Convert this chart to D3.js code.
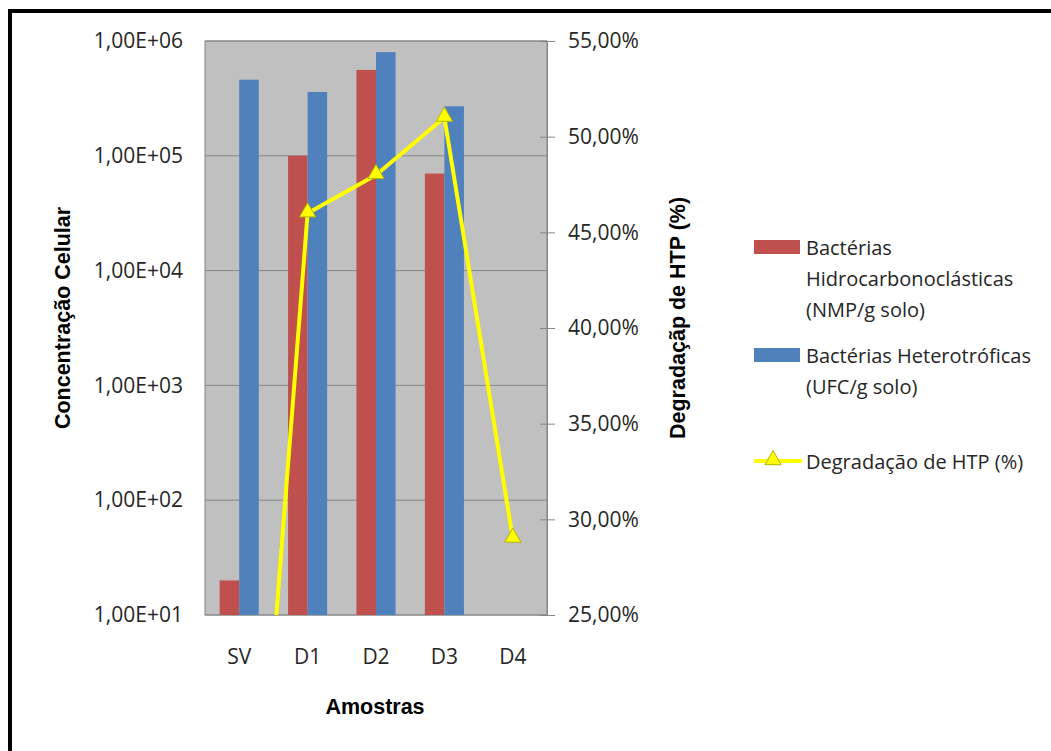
<!DOCTYPE html>
<html>
<head>
<meta charset="utf-8">
<script src="https://cdn.jsdelivr.net/npm/d3@7"></script>
<style>
  body { margin: 0; background: #fff; }
  text { font-family: "Open Sans", "Liberation Sans", sans-serif; fill: #262626; }
  .bold { font-family: "Liberation Sans", Arial, sans-serif; font-weight: bold; fill: #000; }
</style>
</head>
<body>
<div id="chart"></div>
<script>
// dados
const categories = ["SV", "D1", "D2", "D3", "D4"];
const hidrocarbono = [20, 1e5, 5.6e5, 7e4, null];      // NMP/g solo
const heterotroficas = [4.6e5, 3.6e5, 8e5, 2.7e5, null]; // UFC/g solo
const degradacao = [0, 0.46, 0.48, 0.51, 0.29];          // HTP
const leftTicks = [1e1, 1e2, 1e3, 1e4, 1e5, 1e6];
const rightTicks = [0.25, 0.30, 0.35, 0.40, 0.45, 0.50, 0.55];
const legendLabels = [
    ["Bactérias", "Hidrocarbonoclásticas", "(NMP/g solo)"],
    ["Bactérias Heterotróficas", "(UFC/g solo)"],
    ["Degradação de HTP (%)"]
];

const W = 1051, H = 751;
const plot = { left: 205, right: 547, top: 41, bottom: 615 };
const colors = { red: "#C0504D", blue: "#4F81BD", line: "#FFFF00" };

const svg = d3.select("#chart").append("svg")
    .attr("width", W).attr("height", H);

// moldura
svg.append("rect")
    .attr("x", 10).attr("y", 11)
    .attr("width", W + 20).attr("height", H + 20)
    .attr("fill", "none").attr("stroke", "#000").attr("stroke-width", 4);

// escalas
const x = d3.scaleBand().domain(categories).range([plot.left, plot.right]);
const barW = x.bandwidth() / 3.5;
const yLeft = d3.scaleLog().domain([1e1, 1e6]).range([plot.bottom, plot.top]);
const yRight = d3.scaleLinear().domain([0.25, 0.55]).range([plot.bottom, plot.top]);

// área do gráfico
svg.append("rect")
    .attr("x", plot.left).attr("y", plot.top)
    .attr("width", plot.right - plot.left).attr("height", plot.bottom - plot.top)
    .attr("fill", "#C0C0C0").attr("stroke", "#868686").attr("stroke-width", 1);

// linhas de grade
svg.append("g").selectAll("line").data(leftTicks).enter().append("line")
    .attr("x1", plot.left).attr("x2", plot.right)
    .attr("y1", d => yLeft(d)).attr("y2", d => yLeft(d))
    .attr("stroke", "#868686").attr("stroke-width", 1);

// barras
[[hidrocarbono, colors.red, 0], [heterotroficas, colors.blue, 1]].forEach(([vals, col, i]) => {
    svg.append("g").selectAll("rect")
        .data(categories.map((c, k) => ({ c, v: vals[k] })).filter(d => d.v != null))
        .enter().append("rect")
        .attr("x", d => x(d.c) + barW * 0.75 + i * barW)
        .attr("y", d => yLeft(d.v))
        .attr("width", barW)
        .attr("height", d => plot.bottom - yLeft(d.v))
        .attr("fill", col);
});

const tickFont = sel => sel.style("font-size", "21px").attr("fill", "#262626")
    .style("font-family", '"Open Sans", sans-serif');

// eixo esquerdo
const axL = svg.append("g")
    .attr("transform", `translate(${plot.left},0)`)
    .call(d3.axisLeft(yLeft).tickValues(leftTicks).tickSize(0).tickPadding(22)
        .tickFormat(d => "1,00E+" + String(Math.round(Math.log10(d))).padStart(2, "0")));
axL.select(".domain").remove();
axL.selectAll("text").call(tickFont);

// eixo direito
const axR = svg.append("g")
    .attr("transform", `translate(${plot.right},0)`)
    .call(d3.axisRight(yRight).tickValues(rightTicks).tickSizeInner(8).tickSizeOuter(0).tickPadding(13)
        .tickFormat(d => d3.format(".2f")(d * 100).replace(".", ",") + "%"));
axR.select(".domain").attr("stroke", "#868686");
axR.selectAll(".tick line").attr("stroke", "#868686").attr("x1", -7);
axR.selectAll("text").call(tickFont);

// eixo x
const axB = svg.append("g")
    .attr("transform", `translate(0,${plot.bottom})`)
    .call(d3.axisBottom(x).tickSize(0).tickPadding(34));
axB.select(".domain").remove();
axB.selectAll("text").call(tickFont);

// linha de degradação (recortada na área)
svg.append("clipPath").attr("id", "clip").append("rect")
    .attr("x", plot.left).attr("y", plot.top - 10)
    .attr("width", plot.right - plot.left).attr("height", plot.bottom - plot.top + 10);

const pts = categories.map((c, k) => ({ c, v: degradacao[k] }));
const lineG = svg.append("g").attr("clip-path", "url(#clip)");
lineG.append("path")
    .datum(pts)
    .attr("d", d3.line().x(d => x(d.c) + x.bandwidth() / 2).y(d => yRight(d.v)))
    .attr("fill", "none").attr("stroke", colors.line).attr("stroke-width", 4)
    .attr("stroke-linejoin", "round");

const tri = d3.symbol().type(d3.symbolTriangle).size(115);
lineG.selectAll("path.marker").data(pts).enter().append("path")
    .attr("class", "marker")
    .attr("d", tri)
    .attr("transform", d => `translate(${x(d.c) + x.bandwidth() / 2},${yRight(d.v) - 1})`)
    .attr("fill", colors.line).attr("stroke", "#B4B400").attr("stroke-width", 1);

// títulos dos eixos
svg.append("text").attr("class", "bold")
    .attr("transform", "translate(63,318) rotate(-90)")
    .attr("text-anchor", "middle").attr("dominant-baseline", "central")
    .style("font-size", "21.5px")
    .text("Concentração Celular");

svg.append("text").attr("class", "bold")
    .attr("transform", "translate(678,318) rotate(-90)")
    .attr("text-anchor", "middle").attr("dominant-baseline", "central")
    .style("font-size", "21.5px")
    .text("Degradaçãp de HTP (%)");

svg.append("text").attr("class", "bold")
    .attr("x", 375).attr("y", 707)
    .attr("text-anchor", "middle").attr("dominant-baseline", "central")
    .style("font-size", "21.5px")
    .text("Amostras");

// legenda
const legend = svg.append("g").attr("transform", "translate(754,0)");
const legendY = [247, 355, 461];
[colors.red, colors.blue].forEach((col, i) => {
    legend.append("rect")
        .attr("x", 0).attr("y", legendY[i] - 7)
        .attr("width", 46).attr("height", 14)
        .attr("fill", col);
});
legend.append("line")
    .attr("x1", 0).attr("x2", 48).attr("y1", legendY[2]).attr("y2", legendY[2])
    .attr("stroke", colors.line).attr("stroke-width", 4);
legend.append("path")
    .attr("d", tri)
    .attr("transform", `translate(19,${legendY[2] - 1})`)
    .attr("fill", colors.line).attr("stroke", "#B4B400").attr("stroke-width", 1);

legendLabels.forEach((lines, i) => {
    const t = legend.append("text")
        .attr("x", 52).attr("y", legendY[i])
        .attr("dominant-baseline", "central")
        .style("font-size", "20px");
    lines.forEach((ln, j) => {
        t.append("tspan").attr("x", 52).attr("dy", j === 0 ? 0 : 31).text(ln);
    });
});
</script>
</body>
</html>
